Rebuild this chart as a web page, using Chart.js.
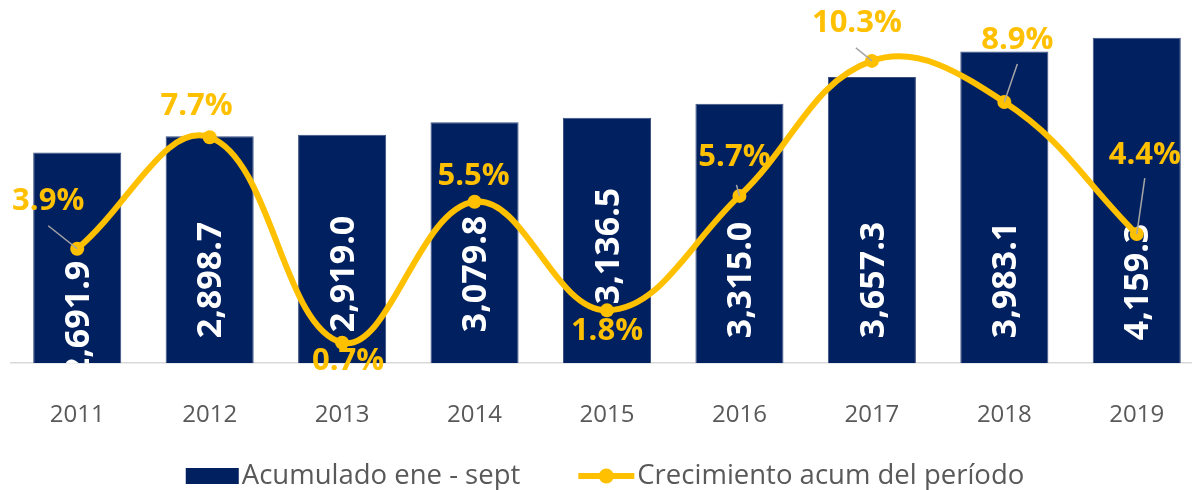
<!DOCTYPE html>
<html>
<head>
<meta charset="utf-8">
<script src="https://cdn.jsdelivr.net/npm/chart.js@4.4.1/dist/chart.umd.min.js"></script>
<style>
  html, body { margin:0; padding:0; background:#fff; overflow:hidden; }
  #wrap { width:1210px; height:490px; }
</style>
</head>
<body>
<div id="wrap"><canvas id="chart"></canvas></div>
<script>
/* datos */
const years = ['2011','2012','2013','2014','2015','2016','2017','2018','2019'];
const acumulado = [2691.9, 2898.7, 2919.0, 3079.8, 3136.5, 3315.0, 3657.3, 3983.1, 4159.3];
const crecimiento = [3.9, 7.7, 0.7, 5.5, 1.8, 5.7, 10.3, 8.9, 4.4];
const legendLabels = ['Acumulado ene - sept', 'Crecimiento acum del período'];

/* colores */
const NAVY = '#002060';
const GOLD = '#FFC000';
const GREY_TXT = '#595959';

/* posiciones de etiquetas (px respecto al punto / base) */
const barLabelY = [319, 280, 274, 274, 246, 280, 280, 280, 282];   // centro del texto girado
const pctOffset = [[-29,-49],[-13,-32],[6,18],[-1,-27],[0,20],[-5,-40],[-15,-39],[13,-63],[8,-80]];
const leaderFrom = [[-29,-23],null,null,null,null,[-3,-11],[-16,-13],[13,-38],[8,-56]];

const fmtNum = v => v.toLocaleString('en-US', {minimumFractionDigits:1, maximumFractionDigits:1});

/* etiquetas de barras, giradas */
const barLabels = {
  id: 'barLabels',
  afterDatasetDraw(chart, args){
    if (args.index !== 0) return;
    const {ctx, chartArea} = chart;
    const meta = chart.getDatasetMeta(0);
    ctx.save();
    ctx.beginPath();
    ctx.rect(chartArea.left, chartArea.top, chartArea.right - chartArea.left, chartArea.bottom - chartArea.top);
    ctx.clip();
    ctx.fillStyle = '#fff';
    ctx.font = 'bold 34px "Open Sans"';
    ctx.textAlign = 'center';
    ctx.textBaseline = 'middle';
    meta.data.forEach((bar, i)=>{
      ctx.save();
      ctx.translate(bar.x, barLabelY[i]);
      ctx.rotate(-Math.PI/2);
      ctx.fillText(fmtNum(acumulado[i]), 0, 2);
      ctx.restore();
    });
    ctx.restore();
  }
};

/* etiquetas de porcentaje + líneas guía */
const pctLabels = {
  id: 'pctLabels',
  afterDatasetsDraw(chart){
    const {ctx} = chart;
    const meta = chart.getDatasetMeta(1);
    ctx.save();
    meta.data.forEach((pt, i)=>{
      const lf = leaderFrom[i];
      if (lf){
        ctx.strokeStyle = '#A6A6A6';
        ctx.lineWidth = 1.5;
        ctx.beginPath();
        ctx.moveTo(pt.x + lf[0], pt.y + lf[1]);
        ctx.lineTo(pt.x, pt.y);
        ctx.stroke();
      }
    });
    ctx.fillStyle = GOLD;
    ctx.font = 'bold 31px "Open Sans"';
    ctx.textAlign = 'center';
    ctx.textBaseline = 'middle';
    meta.data.forEach((pt, i)=>{
      const o = pctOffset[i];
      ctx.fillText(crecimiento[i].toFixed(1) + '%', pt.x + o[0], pt.y + o[1] + 1);
    });
    ctx.restore();
  }
};

/* leyenda a mano */
const customLegend = {
  id: 'customLegend',
  afterDraw(chart){
    const {ctx} = chart;
    const y = 476;
    ctx.save();
    ctx.font = '27.5px "Open Sans"';
    ctx.textBaseline = 'middle';
    const w1 = ctx.measureText(legendLabels[0]).width;
    const w2 = ctx.measureText(legendLabels[1]).width;
    const gap = 58;
    const total = 53 + 3 + w1 + gap + 56 + 3 + w2;
    let x = 605 - total/2;
    ctx.fillStyle = NAVY;
    ctx.fillRect(x, y - 8, 53, 16);
    x += 56;
    ctx.fillStyle = GREY_TXT;
    ctx.fillText(legendLabels[0], x, y);
    x += w1 + gap;
    ctx.strokeStyle = GOLD;
    ctx.lineWidth = 6;
    ctx.beginPath(); ctx.moveTo(x, y); ctx.lineTo(x + 56, y); ctx.stroke();
    ctx.fillStyle = GOLD;
    ctx.beginPath(); ctx.arc(x + 28, y, 7.5, 0, Math.PI*2); ctx.fill();
    x += 59;
    ctx.fillStyle = GREY_TXT;
    ctx.fillText(legendLabels[1], x, y);
    ctx.restore();
  }
};

new Chart(document.getElementById('chart'), {
  data: {
    labels: years,
    datasets: [
      {
        type: 'bar',
        label: legendLabels[0],
        data: acumulado,
        backgroundColor: NAVY,
        borderColor: '#3A4F80',
        borderWidth: 1,
        categoryPercentage: 1,
        barPercentage: 0.665,
        yAxisID: 'y',
        order: 2
      },
      {
        type: 'line',
        label: legendLabels[1],
        data: crecimiento,
        borderColor: GOLD,
        backgroundColor: GOLD,
        borderWidth: 6,
        pointRadius: 7,
        pointBorderWidth: 0,
        pointBackgroundColor: GOLD,
        tension: 0.4,
        yAxisID: 'y2',
        order: 1
      }
    ]
  },
  options: {
    responsive: true,
    maintainAspectRatio: false,
    animation: false,
    layout: { padding: { left: 11, right: 6, top: 11, bottom: 30 } },
    plugins: {
      legend: { display: false },
      tooltip: { enabled: false },
      title: { display: false }
    },
    scales: {
      x: {
        grid: { display: false },
        border: { display: true, color: '#D9D9D9', width: 1.5 },
        ticks: { color: GREY_TXT, font: { family: 'Open Sans', size: 24 }, padding: 30 }
      },
      y: { display: false, min: 0, max: 4500 },
      y2: { display: false, min: 0, max: 12, position: 'right' }
    }
  },
  plugins: [barLabels, pctLabels, customLegend]
});
</script>
</body>
</html>
